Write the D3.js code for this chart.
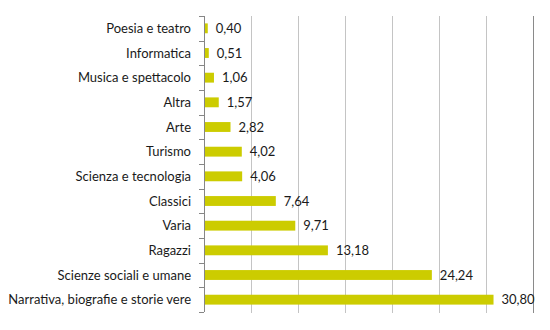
<!DOCTYPE html>
<html>
<head>
<meta charset="utf-8">
<script src="https://cdn.jsdelivr.net/npm/d3@7"></script>
<style>
  html, body { margin: 0; padding: 0; background: #fff; }
  svg { display: block; }
  text { font-family: Lato, "Open Sans", sans-serif; fill: #1a1a1a; }
</style>
</head>
<body>
<svg id="chart" width="550" height="330"></svg>
<script>
// Categories, top to bottom
const categories = [
  "Poesia e teatro",
  "Informatica",
  "Musica e spettacolo",
  "Altra",
  "Arte",
  "Turismo",
  "Scienza e tecnologia",
  "Classici",
  "Varia",
  "Ragazzi",
  "Scienze sociali e umane",
  "Narrativa, biografie e storie vere"
];
// Share per category (%)
const values = [0.40, 0.51, 1.06, 1.57, 2.82, 4.02, 4.06, 7.64, 9.71, 13.18, 24.24, 30.80];
// Vertical grid positions
const gridTicks = [0, 5, 10, 15, 20, 25, 30, 35];

const data = categories.map((c, i) => ({ cat: c, val: values[i] }));
const fmt = v => d3.format(".2f")(v).replace(".", ",");

const svg = d3.select("#chart");
const plotLeft = 204, plotRight = 533, plotTop = 16, plotBottom = 312;

const x = d3.scaleLinear().domain([0, 35]).range([plotLeft, plotRight]);
const y = d3.scaleBand().domain(categories).range([plotTop, plotBottom]).paddingInner(0.6).paddingOuter(0.3);
const yb = d3.scaleBand().domain(categories).range([plotTop, plotBottom]);

// grid lines
svg.append("g")
  .selectAll("line")
  .data(gridTicks.slice(1))
  .join("line")
  .attr("x1", d => Math.round(x(d)) + 0.5)
  .attr("x2", d => Math.round(x(d)) + 0.5)
  .attr("y1", plotTop)
  .attr("y2", plotBottom + 1)
  .attr("stroke", (d, i, n) => i === n.length - 1 ? "#8a8a8a" : "#c4c4c4")
  .attr("stroke-width", 1);

// bars
svg.append("g")
  .selectAll("rect")
  .data(data)
  .join("rect")
  .attr("x", x(0))
  .attr("y", d => y(d.cat))
  .attr("width", d => x(d.val) - x(0))
  .attr("height", y.bandwidth())
  .attr("fill", "#cccc00");

// value labels
svg.append("g")
  .selectAll("text")
  .data(data)
  .join("text")
  .attr("x", d => x(d.val) + 8)
  .attr("y", d => y(d.cat) + y.bandwidth() / 2)
  .attr("dy", "0.35em")
  .attr("font-size", 13)
  .text(d => fmt(d.val));

// category axis with ticks at band boundaries
const axisG = svg.append("g");
axisG.append("line")
  .attr("x1", plotLeft + 0.5).attr("x2", plotLeft + 0.5)
  .attr("y1", plotTop).attr("y2", plotBottom)
  .attr("stroke", "#868686");
const bounds = categories.map(c => yb(c)).concat([plotBottom]);
axisG.selectAll("line.tick")
  .data(bounds)
  .join("line")
  .attr("class", "tick")
  .attr("x1", plotLeft - 5).attr("x2", plotLeft)
  .attr("y1", d => Math.round(d) + 0.5)
  .attr("y2", d => Math.round(d) + 0.5)
  .attr("stroke", "#868686");
axisG.selectAll("text")
  .data(categories)
  .join("text")
  .attr("x", plotLeft - 13)
  .attr("y", d => yb(d) + yb.bandwidth() / 2)
  .attr("dy", "0.35em")
  .attr("text-anchor", "end")
  .attr("font-size", 13)
  .text(d => d);
</script>
</body>
</html>
